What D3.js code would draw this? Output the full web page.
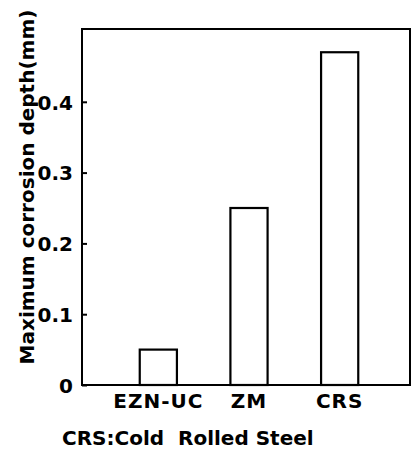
<!DOCTYPE html>
<html>
<head>
<meta charset="utf-8">
<script src="https://cdn.jsdelivr.net/npm/d3@7"></script>
<style>
    body { margin: 0; background: #fff; }
    text { font-family: "DejaVu Sans", sans-serif; fill: #000; }
</style>
</head>
<body>
<div id="chart"></div>
<script>
// values
var categories = ["EZN-UC", "ZM", "CRS"];
var depths = [0.05, 0.25, 0.47];
var yTicks = [0, 0.1, 0.2, 0.3, 0.4];
var yTitle = "Maximum corrosion depth(mm)";
var note = "CRS:Cold  Rolled Steel";

var data = categories.map(function(c, i) { return { name: c, value: depths[i] }; });

var margin = { top: 29, right: 2, bottom: 65, left: 82 },
    width = 412 - margin.left - margin.right,
    height = 450 - margin.top - margin.bottom;

var svg = d3.select("#chart")
    .append("svg")
    .attr("width", 412)
    .attr("height", 450);

var g = svg.append("g")
    .attr("transform", "translate(" + margin.left + "," + margin.top + ")");

var x = d3.scaleBand()
    .domain(categories)
    .range([31, 303])
    .paddingInner(0.59)
    .paddingOuter(0.295);

var y = d3.scaleLinear()
    .domain([0, 0.5])
    .range([height, 2]);

// frame
g.append("rect")
    .attr("x", 0)
    .attr("y", 0)
    .attr("width", width)
    .attr("height", height)
    .attr("fill", "none")
    .attr("stroke", "#000")
    .attr("stroke-width", 2);

// y axis, ticks pointing inward
var yAxis = g.append("g")
    .call(d3.axisLeft(y)
        .tickValues(yTicks)
        .tickSizeInner(-5)
        .tickSizeOuter(0)
        .tickPadding(9)
        .tickFormat(function(d) { return d === 0 ? "0" : d3.format(".1f")(d); }));
yAxis.select(".domain").remove();
yAxis.selectAll("line").attr("stroke", "#000").attr("stroke-width", 2);
yAxis.selectAll("text")
    .style("font-size", "20px")
    .style("font-weight", "bold")
    .style("font-family", "DejaVu Sans, sans-serif")
    .attr("dy", "0.36em");

// x axis labels
var xAxis = g.append("g")
    .attr("transform", "translate(0," + height + ")")
    .call(d3.axisBottom(x).tickSize(0).tickPadding(9));
xAxis.select(".domain").remove();
xAxis.selectAll("text")
    .style("font-size", "20px")
    .style("font-weight", "bold")
    .style("font-family", "DejaVu Sans, sans-serif")
    .style("letter-spacing", "1px");

// bars
g.selectAll("bars")
    .data(data)
    .enter()
    .append("rect")
    .attr("x", function(d) { return x(d.name); })
    .attr("y", function(d) { return y(d.value); })
    .attr("width", x.bandwidth())
    .attr("height", function(d) { return height - y(d.value); })
    .attr("fill", "#fff")
    .attr("stroke", "#000")
    .attr("stroke-width", 2.2);

// y title
svg.append("text")
    .attr("transform", "translate(34," + (margin.top + height / 2 - 20) + ") rotate(-90)")
    .attr("text-anchor", "middle")
    .style("font-size", "20px")
    .style("font-weight", "bold")
    .text(yTitle);

// footnote
svg.append("text")
    .attr("x", 62)
    .attr("y", 445)
    .attr("xml:space", "preserve")
    .style("white-space", "pre")
    .style("font-size", "20px")
    .style("font-weight", "bold")
    .text(note);
</script>
</body>
</html>
